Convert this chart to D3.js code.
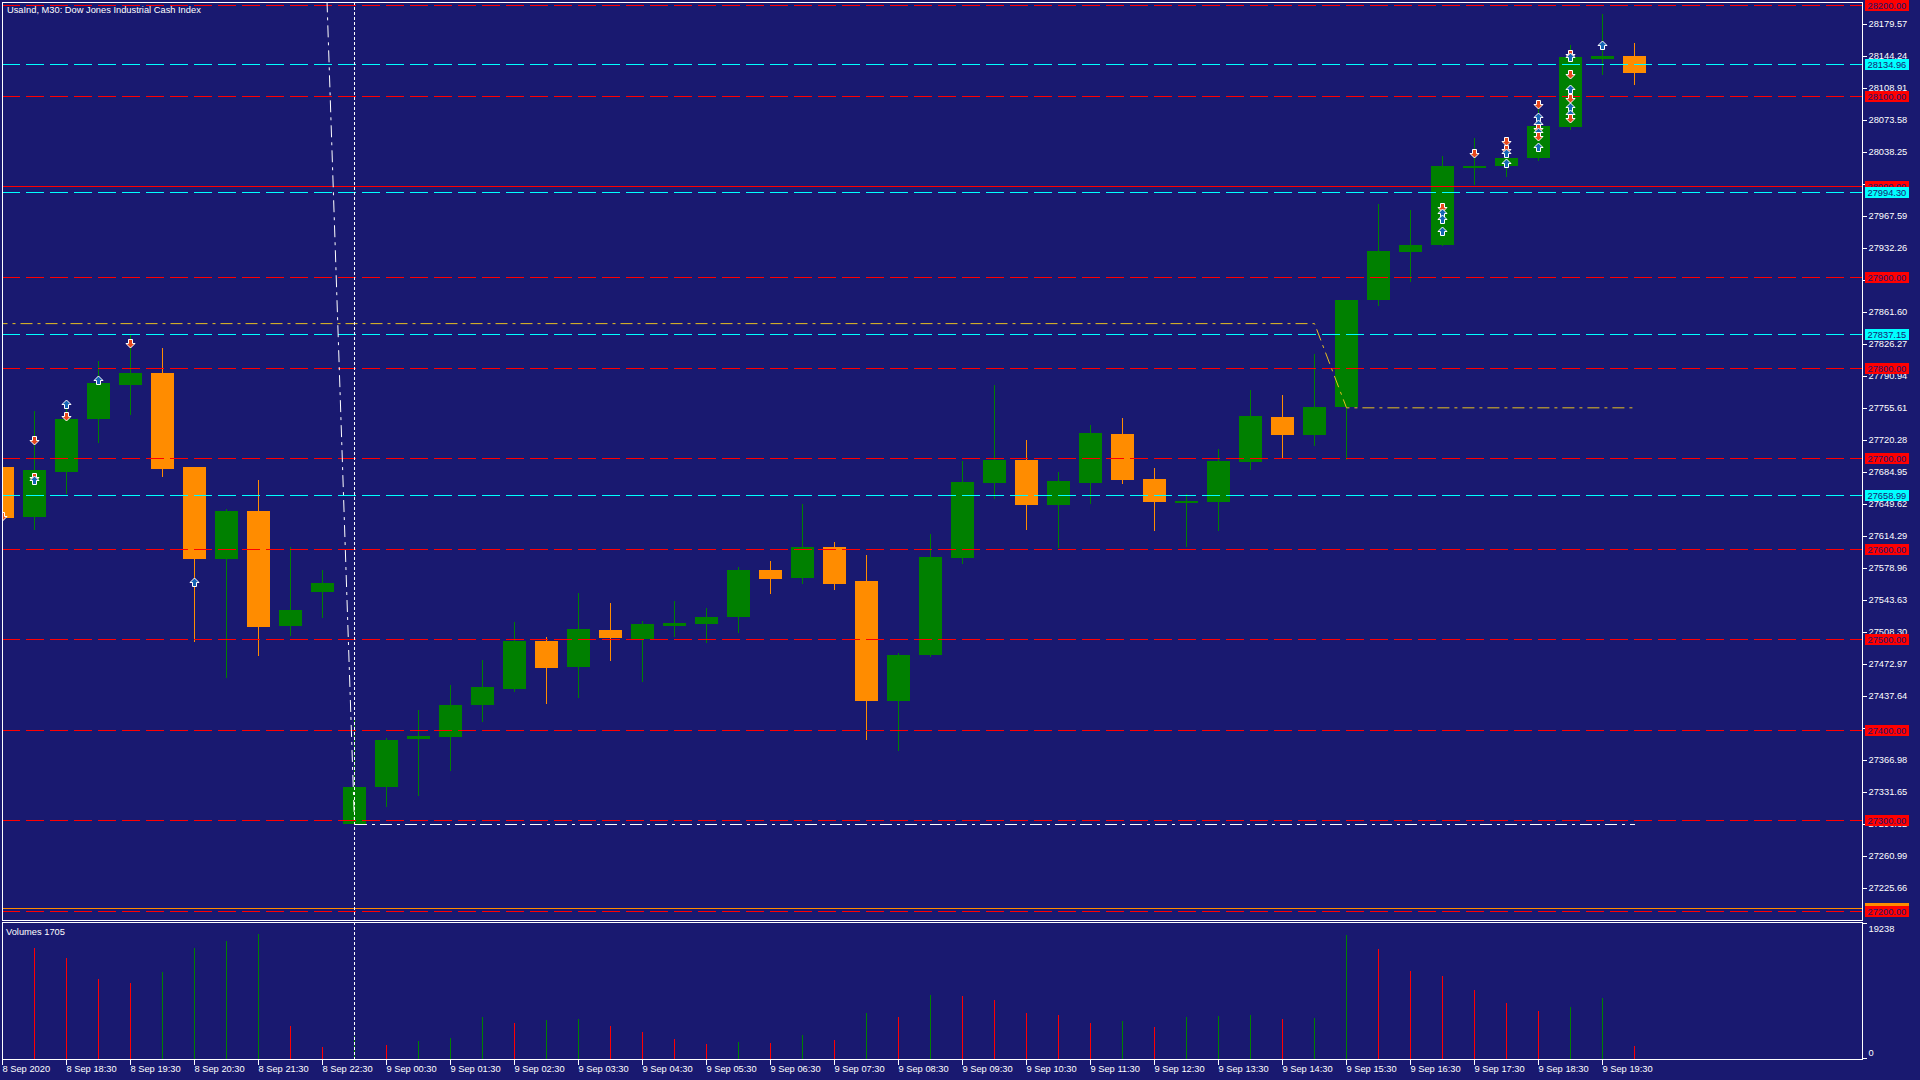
<!DOCTYPE html>
<html><head><meta charset="utf-8">
<script src="https://cdn.jsdelivr.net/npm/d3@7/dist/d3.min.js"></script>
<style>
html,body{margin:0;padding:0;background:#191970;overflow:hidden}
svg{display:block}
text{font-family:"Liberation Sans",Arial,sans-serif;font-size:9.3px}
</style>
</head><body>
<svg id="c" width="1920" height="1080"></svg>
<script>
// ---------------- DATA ----------------
const barTimes = ["8 Sep 17:30","8 Sep 18:00","8 Sep 18:30","8 Sep 19:00","8 Sep 19:30","8 Sep 20:00","8 Sep 20:30","8 Sep 21:00","8 Sep 21:30","8 Sep 22:00","8 Sep 22:30",
"9 Sep 00:00","9 Sep 00:30","9 Sep 01:00","9 Sep 01:30","9 Sep 02:00","9 Sep 02:30","9 Sep 03:00","9 Sep 03:30","9 Sep 04:00","9 Sep 04:30","9 Sep 05:00","9 Sep 05:30",
"9 Sep 06:00","9 Sep 06:30","9 Sep 07:00","9 Sep 07:30","9 Sep 08:00","9 Sep 08:30","9 Sep 09:00","9 Sep 09:30","9 Sep 10:00","9 Sep 10:30","9 Sep 11:00","9 Sep 11:30",
"9 Sep 12:00","9 Sep 12:30","9 Sep 13:00","9 Sep 13:30","9 Sep 14:00","9 Sep 14:30","9 Sep 15:00","9 Sep 15:30","9 Sep 16:00","9 Sep 16:30","9 Sep 17:00","9 Sep 17:30",
"9 Sep 18:00","9 Sep 18:30","9 Sep 19:00","9 Sep 19:30","9 Sep 20:00"];
const openV  = [27690,27635,27685,27743.5,27781,27794,27690,27589,27641.5,27514,27552,27296,27337,27390,27392,27427,27445,27498,27469,27510,27500,27515,27517,27524,27576,27568,27602,27564,27432,27482,27590,27672.5,27698,27648,27672.5,27727,27677,27652,27651.5,27696,27745,27726,27756,27874,27928,27935.5,28021,28023,28031,28066,28141,28144];
const highV  = [27700,27752,27755,27807,27836,27821.5,27690,27644,27676,27602,27576,27411,27391,27422,27449,27477,27519,27502,27551,27540,27520,27542,27534,27580,27586,27649,27607,27593,27485,27616,27697,27781,27720,27685,27736.5,27744,27689,27660,27710,27775,27770,27815,27874.5,27980.5,27974,28033.6,28053,28045,28095,28156,28190,28158];
const lowV   = [27625,27622,27661,27718,27749,27680.5,27498,27458.5,27483,27505,27524,27296,27316,27328,27356,27410,27443,27429,27436,27477,27454,27503,27497,27508,27551,27562,27555,27390,27378,27481,27584,27656,27622,27602,27650,27672.5,27621,27603,27621,27688,27700,27714,27699,27869,27896,27935.5,28003,28011,28029.5,28063,28124,28113];
const closeV = [27634,27687,27743,27783,27794,27688,27589,27641.5,27513,27532,27562,27337,27388.6,27393,27427,27447,27498,27468.5,27511,27501,27517,27518,27524,27576,27566,27602,27561,27432,27483,27591,27674,27698,27648,27675,27728,27676,27651.5,27653,27697,27746.5,27726,27756,27874.5,27929,27935,28022.5,28023,28031.4,28066.6,28143,28144,28125.6];
const volumeV = [19238,15661,14236,11229,10702,12284,15661,16658,17713,4503,1553,3100,1796,2420,2793,5900,4945,5415,5515,4503,3648,2693,1938,2266,2081,3221,2508,6370,5800,8935,8792,8222,6370,6085,4945,5230,4361,5800,5942,6085,5515,5657,17570,15518,12400,11657,9700,7795,6698,7225,8607,1705];

const timeTickBars   = [0,2,4,6,8,10,12,14,16,18,20,22,24,26,28,30,32,34,36,38,40,42,44,46,48,50];
const timeTickLabels = ["8 Sep 2020","8 Sep 18:30","8 Sep 19:30","8 Sep 20:30","8 Sep 21:30","8 Sep 22:30","9 Sep 00:30","9 Sep 01:30","9 Sep 02:30","9 Sep 03:30","9 Sep 04:30","9 Sep 05:30","9 Sep 06:30","9 Sep 07:30","9 Sep 08:30","9 Sep 09:30","9 Sep 10:30","9 Sep 11:30","9 Sep 12:30","9 Sep 13:30","9 Sep 14:30","9 Sep 15:30","9 Sep 16:30","9 Sep 17:30","9 Sep 18:30","9 Sep 19:30"];
const priceTicks = [28179.57,28144.24,28108.91,28073.58,28038.25,28002.92,27967.59,27932.26,27896.93,27861.60,27826.27,27790.94,27755.61,27720.28,27684.95,27649.62,27614.29,27578.96,27543.63,27508.30,27472.97,27437.64,27402.31,27366.98,27331.65,27296.32,27260.99,27225.66];
const volumeTicks = [19238,0];

const roundLevels = [28200,28100,27900,27800,27700,27600,27500,27400,27300,27200];
const solidLevels = [28000];
const cyanLevels  = [28134.96,27994.30,27837.15,27658.99];
const orangeLevels = [27203.0];

const yellowPath = [[-1,27849],[41,27849],[42,27756],[51,27756]];
const whiteFlat  = [[11,27296],[51,27296]];
const whiteSlant = [[10.14,28206],[11,27296]];
const separatorBar = 11;

const markerBar   = [0,1,1,1,2,2,3,4,6,45,45,45,45,46,47,47,47,47,48,48,48,48,48,48,48,49,49,49,49,49,49,49,49,50];
const markerPrice = [27636,27720,27679.4,27675.6,27759.7,27746.8,27786.3,27827.4,27563.4,27977.6,27970.3,27963.7,27951.1,28036.6,28050.1,28041.3,28037.2,28025.5,28091,28077,28069,28064.5,28060,28055.7,28043.8,28145.9,28143,28124.1,28107.9,28097.3,28088,28079.6,28075.2,28156.5];
const markerDir   = ["d","d","d","u","u","d","u","d","u","d","u","u","u","d","d","d","u","u","d","u","u","d","u","d","u","d","u","d","u","d","u","u","d","u"];

const titleText = "UsaInd, M30:  Dow Jones Industrial Cash Index";
const volumeTitle = "Volumes 1705";

// ---------------- LAYOUT ----------------
const W=1920,H=1080;
const L=2,R=1862,T=2,MB=920,VT=922,VB=1059;
const BG="#191970", GREEN="#008000", ORANGE="#ff8c00", RED="#ff0000", CYAN="#00ffff", WHITE="#ffffff", GOLD="#e8c020";

const svg=d3.select("#c");
svg.append("rect").attr("width",W).attr("height",H).attr("fill",BG);
const defs=svg.append("defs");
defs.append("clipPath").attr("id","cm").append("rect").attr("x",L).attr("y",T).attr("width",R-L).attr("height",MB-T);
defs.append("clipPath").attr("id","cv").append("rect").attr("x",L).attr("y",VT).attr("width",R-L).attr("height",VB-VT);

const x=d3.scaleLinear().domain([0,51]).range([2,1634]);
const y=d3.scaleLinear().domain([27200,28200]).range([910.8,5.3]);
const yv=d3.scaleLinear().domain([0,19238]).range([1058,923]);
const px=i=>Math.round(x(i));
const py=v=>Math.round(y(v));

const bars=d3.range(barTimes.length).map(i=>({i,o:openV[i],h:highV[i],l:lowV[i],c:closeV[i],v:volumeV[i]}));

const main=svg.append("g").attr("clip-path","url(#cm)").attr("shape-rendering","crispEdges");

// candles
const cg=main.append("g");
cg.selectAll("line.w").data(bars).join("line")
  .attr("x1",d=>px(d.i)+0.5).attr("x2",d=>px(d.i)+0.5)
  .attr("y1",d=>py(d.h)).attr("y2",d=>py(d.l)+1)
  .attr("stroke",d=>d.c>=d.o?GREEN:ORANGE).attr("stroke-width",1);
cg.selectAll("rect.b").data(bars).join("rect")
  .attr("x",d=>px(d.i)-11).attr("width",23)
  .attr("y",d=>py(Math.max(d.o,d.c)))
  .attr("height",d=>Math.max(2,py(Math.min(d.o,d.c))-py(Math.max(d.o,d.c))))
  .attr("fill",d=>d.c>=d.o?GREEN:ORANGE);

// level lines
function hline(g,v,color,dash){
  const yy=py(v)+0.5;
  g.append("line").attr("x1",L).attr("x2",R).attr("y1",yy).attr("y2",yy)
   .attr("stroke",color).attr("stroke-width",1).attr("stroke-dasharray",dash||null);
}
const lg=main.append("g");
roundLevels.forEach(v=>hline(lg,v,RED,"18,6"));
solidLevels.forEach(v=>hline(lg,v,RED,null));
cyanLevels.forEach(v=>hline(lg,v,CYAN,"18,6"));
orangeLevels.forEach(v=>hline(lg,v,ORANGE,null));

// indicator lines
const lineGen=d3.line().x(d=>x(d[0])+0.5).y(d=>y(d[1])+0.5);
main.append("path").attr("d",lineGen(yellowPath)).attr("fill","none").attr("stroke",GOLD).attr("stroke-width",1).attr("stroke-dasharray","12,5,3,5").attr("shape-rendering","auto");
main.append("path").attr("d",lineGen(whiteFlat)).attr("fill","none").attr("stroke",WHITE).attr("stroke-width",1).attr("stroke-dasharray","12,5,3,5");
main.append("path").attr("d",lineGen(whiteSlant)).attr("fill","none").attr("stroke",WHITE).attr("stroke-width",1).attr("stroke-dasharray","12,5,3,5").attr("shape-rendering","auto");

// markers
const upPath="M0,-4.5L4.5,0L2,0L2,4L-2,4L-2,0L-4.5,0Z";
const downPath="M0,4.5L4.5,0L2,0L2,-4L-2,-4L-2,0L-4.5,0Z";
const mg=svg.append("g").attr("clip-path","url(#cm)");
mg.selectAll("path").data(markerBar.map((b,k)=>({b,p:markerPrice[k],d:markerDir[k]}))).join("path")
  .attr("transform",d=>`translate(${px(d.b)+0.5},${py(d.p)+0.5})`)
  .attr("d",d=>d.d==="u"?upPath:downPath)
  .attr("fill",d=>d.d==="u"?"#1464b4":"#e8481c")
  .attr("stroke",WHITE).attr("stroke-width",1);

// volume bars
const vg=svg.append("g").attr("clip-path","url(#cv)").attr("shape-rendering","crispEdges");
vg.selectAll("line").data(bars).join("line")
  .attr("x1",d=>px(d.i)+0.5).attr("x2",d=>px(d.i)+0.5)
  .attr("y1",d=>Math.round(yv(d.v))).attr("y2",Math.round(yv(0))+1)
  .attr("stroke",d=>(d.i>0 && d.v>volumeV[d.i-1])?GREEN:RED).attr("stroke-width",1);

// separator
svg.append("line").attr("x1",px(separatorBar)+0.5).attr("x2",px(separatorBar)+0.5)
  .attr("y1",T).attr("y2",VB).attr("stroke",WHITE).attr("stroke-dasharray","3,2").attr("shape-rendering","crispEdges");

// borders
const bg=svg.append("g").attr("shape-rendering","crispEdges").attr("fill","none").attr("stroke",WHITE);
bg.append("rect").attr("x",L+0.5).attr("y",T+0.5).attr("width",R-L).attr("height",MB-T);
bg.append("rect").attr("x",L+0.5).attr("y",VT+0.5).attr("width",R-L).attr("height",VB-VT);

// price axis
const pa=svg.append("g").attr("transform",`translate(${R+0.5},0)`)
  .call(d3.axisRight(y).tickValues(priceTicks).tickFormat(d3.format(".2f")).tickSize(4).tickPadding(2).tickSizeOuter(0));
pa.select(".domain").remove();
pa.selectAll("line").attr("stroke",WHITE).attr("shape-rendering","crispEdges");
pa.selectAll("text").attr("fill",WHITE).attr("font-family","Liberation Sans, Arial, sans-serif").attr("font-size","9.3px");

// volume axis
const va=svg.append("g").attr("transform",`translate(${R+0.5},0)`)
  .call(d3.axisRight(yv).tickValues(volumeTicks).tickFormat(d3.format("d")).tickSize(4).tickPadding(2).tickSizeOuter(0));
va.select(".domain").remove();
va.selectAll("line").attr("stroke",WHITE).attr("shape-rendering","crispEdges");
va.selectAll("text").attr("fill",WHITE).attr("font-family","Liberation Sans, Arial, sans-serif").attr("font-size","9.3px")
  .attr("dy",d=>d===0?"-0.25em":"0.95em");

// time axis
const ta=svg.append("g").attr("transform",`translate(0,${VB+0.5})`)
  .call(d3.axisBottom(x).tickValues(timeTickBars).tickFormat((d,k)=>timeTickLabels[k]).tickSize(5).tickPadding(1).tickSizeOuter(0));
ta.select(".domain").remove();
ta.selectAll(".tick").attr("transform",d=>`translate(${px(d)+0.5},0)`);
ta.selectAll("line").attr("stroke",WHITE).attr("shape-rendering","crispEdges");
ta.selectAll("text").attr("fill",WHITE).attr("text-anchor","start").attr("x",0).attr("font-family","Liberation Sans, Arial, sans-serif").attr("font-size","9.3px");

// price labels for levels
function plabel(v,color){
  const yy=py(v);
  const g=svg.append("g");
  g.append("rect").attr("x",1865).attr("y",yy-5).attr("width",44).attr("height",11).attr("fill",color).attr("shape-rendering","crispEdges");
  g.append("text").attr("x",1867.5).attr("y",yy+4).attr("fill",BG).text(d3.format(".2f")(v));
}
orangeLevels.forEach(v=>plabel(v,ORANGE));
solidLevels.forEach(v=>plabel(v,RED));
roundLevels.forEach(v=>plabel(v,RED));
cyanLevels.forEach(v=>plabel(v,CYAN));

// titles
svg.append("text").attr("x",7).attr("y",13).attr("fill",WHITE).text(titleText);
svg.append("text").attr("x",6).attr("y",935).attr("fill",WHITE).text(volumeTitle);
</script>
</body></html>
